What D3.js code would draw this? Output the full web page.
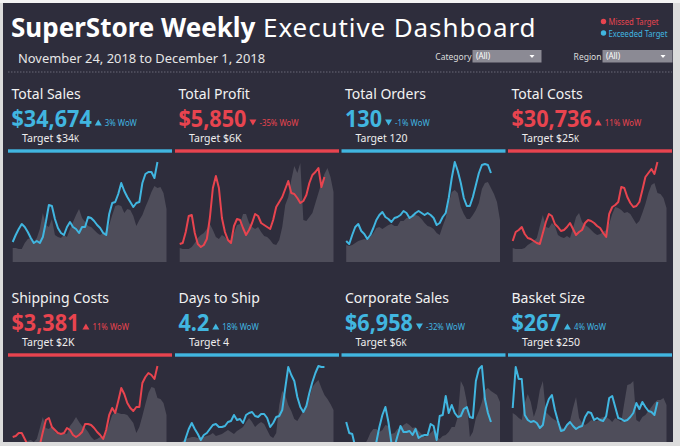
<!DOCTYPE html>
<html><head><meta charset="utf-8">
<script src="https://cdn.jsdelivr.net/npm/d3@7"></script>
<style>body{margin:0;background:#dedede;} svg{display:block;font-family:"Noto Sans",sans-serif;}</style>
</head><body><svg id="c" width="680" height="446"></svg>
<script>
// ---------- data ----------
const metrics   = ["Total Sales","Total Profit","Total Orders","Total Costs","Shipping Costs","Days to Ship","Corporate Sales","Basket Size"];
const kpiValues = ["$34,674","$5,850","130","$30,736","$3,381","4.2","$6,958","$267"];
const wowPct    = ["3%","-35%","-1%","11%","11%","18%","-32%","4%"];
const wowDir    = ["up","down","down","up","up","up","down","up"];
const targets   = ["$34K","$6K","120","$25K","$2K","4","$6K","$250"];
const smallK    = [true,false,false,true,false,false,true,false];
const status    = ["exceeded","missed","exceeded","missed","missed","exceeded","exceeded","exceeded"];

// weekly values, current year (to week 49) and prior year (52 weeks)
const salesCY = [18,25,31,36,33,28,22,17,19,17,23,38,55,54,41,32,27,25,33,38,33,31,27,33,33,43,42,39,35,32,27,25,46,57,58,66,77,69,63,58,53,57,58,77,86,88,88,82,98];
const salesPY = [12,12,11,11,17,21,22,18,22,31,47,35,33,41,25,23,22,25,23,31,38,45,51,42,38,34,33,30,27,25,27,29,35,45,54,55,54,47,51,50,44,34,40,45,53,60,68,74,72,73,67,51];
const profitCY = [16,17,28,44,45,27,16,13,15,21,42,72,84,72,42,28,20,17,34,41,40,32,25,30,37,46,44,37,35,33,31,40,53,58,63,71,79,67,66,62,57,59,65,77,85,88,92,73,83];
const profitPY = [12,11,11,11,13,17,22,25,27,31,36,30,23,21,25,23,19,20,27,35,36,46,46,37,33,31,33,28,24,23,20,16,15,20,33,55,63,80,94,87,97,40,39,43,47,57,67,77,86,92,83,68];
const ordersCY = [19,16,25,33,36,29,26,21,25,32,40,45,48,43,41,38,42,43,45,49,47,42,44,47,49,47,45,47,45,42,35,37,43,47,62,82,98,89,77,62,54,54,63,75,87,95,96,95,87];
const ordersPY = [15,14,15,17,19,20,21,20,23,27,32,33,31,33,35,36,34,34,39,39,42,43,46,45,44,41,37,34,33,31,27,25,34,42,57,68,70,67,53,46,41,41,45,50,57,71,77,78,72,66,58,40];
const costsCY = [19,28,30,33,26,22,21,19,17,16,27,38,46,44,36,33,29,30,33,37,31,25,28,30,37,40,39,37,34,32,27,23,46,53,55,58,73,72,63,57,53,54,58,70,83,87,91,86,98];
const costsPY = [12,11,11,11,12,15,17,19,22,34,45,33,32,37,34,25,23,22,24,22,32,43,47,38,35,33,30,27,25,26,28,30,36,46,53,52,50,47,48,46,41,36,39,47,56,67,75,77,67,66,62,52];
const shippingCY = [26,27,30,30,24,18,13,11,14,18,31,43,45,36,33,30,29,30,35,33,28,26,28,31,39,39,38,35,31,28,24,33,48,55,50,62,75,69,60,55,52,56,56,80,86,90,88,84,97];
const shippingPY = [18,17,16,17,20,22,23,21,24,35,46,35,34,37,31,29,28,30,29,37,41,46,41,37,35,31,26,23,24,26,27,31,39,48,51,50,49,49,48,44,40,30,36,47,59,70,76,75,65,64,60,48];
const daysCY = [13,15,25,34,40,34,29,23,28,30,34,38,39,36,36,37,41,42,48,43,44,40,48,50,51,47,46,49,49,45,36,40,46,47,53,75,96,88,82,66,56,51,57,70,81,90,97,96,96];
const daysPY = [20,22,24,25,26,26,25,26,26,27,28,30,27,28,29,31,33,31,29,32,34,36,41,45,41,36,39,41,39,33,27,25,30,58,72,68,58,52,44,42,47,52,58,65,76,80,83,75,68,64,59,53];
const corpCY = [41,30,29,16,10,7,6,9,14,16,21,36,48,56,41,20,16,27,37,31,31,32,28,34,25,27,28,28,39,37,23,47,48,67,50,58,50,46,47,54,56,46,45,82,94,97,64,50,41];
const corpPY = [21,20,20,19,18,17,18,23,30,34,34,31,33,38,37,29,30,34,35,38,40,38,35,36,32,29,26,28,30,33,26,24,27,28,31,36,36,46,82,76,61,26,31,45,52,61,73,75,72,70,68,61];
const basketCY = [55,96,84,84,48,43,41,42,40,35,38,55,64,68,53,42,32,33,38,41,37,34,36,37,46,51,50,43,45,43,42,47,65,67,56,45,44,42,43,46,50,60,54,61,56,52,51,48,61];
const basketPY = [50,48,45,43,60,69,61,46,55,73,82,51,48,45,43,41,36,34,38,42,55,66,45,40,38,40,43,42,42,45,46,46,44,41,45,43,41,60,78,79,82,43,41,46,48,52,56,60,63,63,65,58];

const currentYear = [salesCY,profitCY,ordersCY,costsCY,shippingCY,daysCY,corpCY,basketCY];
const priorYear   = [salesPY,profitPY,ordersPY,costsPY,shippingPY,daysPY,corpPY,basketPY];

// ---------- style ----------
const BLUE = "#41b6e0", RED = "#e8444f", BG = "#2e2d3c", AREA = "#4e4d5a";
const col = s => s === "exceeded" ? BLUE : RED;

const svg = d3.select("#c");
svg.append("rect").attr("width",680).attr("height",446).attr("fill","#dcdcdc");
svg.append("rect").attr("width",680).attr("height",3).attr("fill","#f3f3f3");
svg.append("rect").attr("x",3).attr("y",3).attr("width",670).attr("height",439).attr("fill",BG);
svg.append("defs").append("clipPath").attr("id","clip")
  .append("rect").attr("x",3).attr("y",3).attr("width",670).attr("height",439);
const g = svg.append("g").attr("clip-path","url(#clip)");

// header
const title = g.append("text").attr("x",11).attr("y",37).attr("font-size",26).attr("fill","#ffffff");
title.append("tspan").attr("font-weight",700).text("SuperStore Weekly");
title.append("tspan").attr("font-weight",400).attr("letter-spacing",0.9).text(" Executive Dashboard");
g.append("text").attr("x",18).attr("y",63).attr("font-size",12.9).attr("fill","#e6e6e6")
  .text("November 24, 2018 to December 1, 2018");
g.append("line").attr("x1",8).attr("x2",672).attr("y1",72).attr("y2",72)
  .attr("stroke","#4b4a59").attr("stroke-width",2).attr("stroke-dasharray","1.5,1.5");

// legend
const legendItems = [["Missed Target",RED],["Exceeded Target",BLUE]];
legendItems.forEach(([t,c],i)=>{
  g.append("circle").attr("cx",603.5).attr("cy",21.5+i*11.5).attr("r",2.7).attr("fill",c);
  g.append("text").attr("transform",`translate(608.5,${25+i*11.5}) scale(0.87,1)`)
    .attr("font-size",8.8).attr("fill",c).text(t);
});

// filters
const filters = [["Category",472.5,69],["Region",602.5,70]];
filters.forEach(([lab,x,w])=>{
  g.append("text").attr("x",x-1).attr("y",59.5).attr("text-anchor","end").attr("font-size",8.5).attr("fill","#dddddd").text(lab);
  g.append("rect").attr("x",x).attr("y",50).attr("width",w).attr("height",12.5).attr("fill","#8b8a94");
  g.append("text").attr("x",x+3.5).attr("y",59.3).attr("font-size",8).attr("fill","#ffffff").text("(All)");
  const ax = x + w - 9.5;
  g.append("path").attr("d",`M${ax-2.5},55 L${ax+2.5},55 L${ax},58 Z`).attr("fill","#ffffff");
});

// cards
const cardX = [8,175,341.5,508];
const cardW = 164;
const rowOff = [0,204];
const VSX = 0.9;

metrics.forEach((m,i)=>{
  const cx = cardX[i%4], ro = rowOff[Math.floor(i/4)];
  const c = col(status[i]);
  const cg = g.append("g");
  cg.append("text").attr("x",cx+3.5).attr("y",98.5+ro).attr("font-size",14).attr("fill","#f2f2f2").text(m);
  const vt = cg.append("text").attr("transform",`translate(${cx+3.5},${126.5+ro}) scale(${VSX},1)`)
    .attr("font-size",24).attr("font-weight",700).attr("fill",c).text(kpiValues[i]);
  const vEnd = cx + 3.5 + vt.node().getComputedTextLength()*VSX;
  const tx = vEnd + 3, tb = 125.5 + ro;
  const tri = wowDir[i]==="up"
    ? `M${tx},${tb} L${tx+7},${tb} L${tx+3.5},${tb-6} Z`
    : `M${tx},${tb-6} L${tx+7},${tb-6} L${tx+3.5},${tb} Z`;
  cg.append("path").attr("d",tri).attr("fill",c);
  cg.append("text").attr("transform",`translate(${tx+10},${126+ro}) scale(0.92,1)`)
    .attr("font-size",8.5).attr("fill",c).text(wowPct[i]+" WoW");
  const tt = cg.append("text").attr("x",cx+14).attr("y",142+ro).attr("font-size",10.5).attr("fill","#eeeeee");
  if (smallK[i]) {
    tt.append("tspan").text("Target " + targets[i].slice(0,-1));
    tt.append("tspan").attr("font-size",8).text("K");
  } else tt.text("Target " + targets[i]);
  cg.append("rect").attr("x",cx).attr("y",149.3+ro).attr("width",cardW).attr("height",3.4).attr("fill",c);

  // sparkline
  const base = 260 + ro - (ro ? 1 : 0);
  const x = d3.scaleLinear().domain([0,51]).range([cx+4.7, cx+158.5]);
  const y = d3.scaleLinear().domain([0,110]).range([base, base-110]);
  const area = d3.area().x((d,j)=>x(j)).y0(base+2).y1(d=>y(d));
  cg.append("path").datum(priorYear[i]).attr("d",area).attr("fill",AREA);
  const line = d3.line().x((d,j)=>x(j)).y(d=>y(d));
  cg.append("path").datum(currentYear[i]).attr("d",line).attr("fill","none")
    .attr("stroke",c).attr("stroke-width",2).attr("stroke-linejoin","round");
});
</script></body></html>
